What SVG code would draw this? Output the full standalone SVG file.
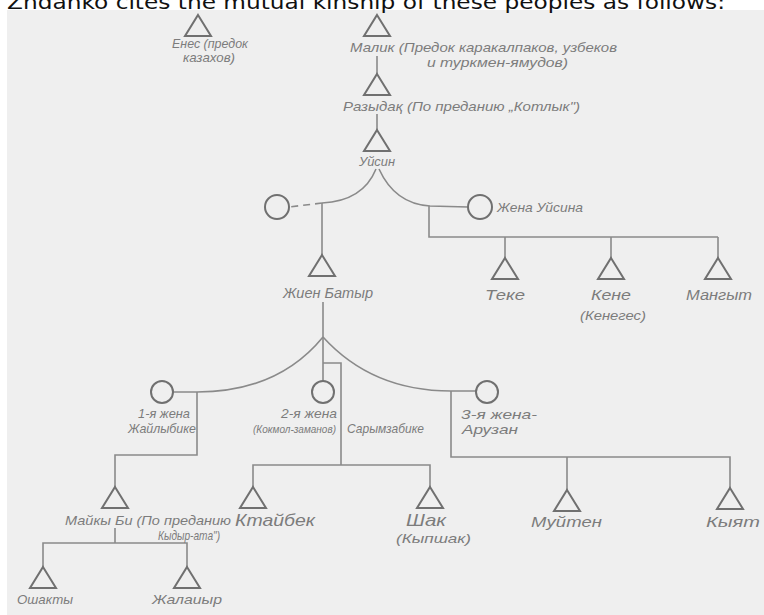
<svg xmlns="http://www.w3.org/2000/svg" xmlns:xlink="http://www.w3.org/1999/xlink" width="764" height="615" viewBox="0 0 764 615">
<style>
.bg{fill:#efefef}
.hdr{font-family:"DejaVu Sans",Verdana,sans-serif;font-size:20px;fill:#111}
.t{font-family:"Liberation Sans",Arial,sans-serif;font-style:italic;font-size:13px;fill:#7c7c7c}
.tb{font-family:"Liberation Sans",Arial,sans-serif;font-style:italic;font-size:15px;fill:#7c7c7c}
.tri{fill:none;stroke:#707070;stroke-width:2;stroke-linejoin:miter}
.cir{fill:none;stroke:#707070;stroke-width:2}
.ln{fill:none;stroke:#8a8a8a;stroke-width:1.6}
.dash{fill:none;stroke:#8a8a8a;stroke-width:1.6;stroke-dasharray:7 5}
</style>
<defs>
<path id="tri" d="M0,0 L13,21 L-13,21 Z"/>
</defs>
<rect class="bg" x="7" y="10" width="757" height="605"/>
<text class="hdr" x="7" y="9" textLength="718" lengthAdjust="spacingAndGlyphs">Zhdanko cites the mutual kinship of these peoples as follows:</text>

<g id="connectors">
<path class="ln" d="M377,56 V74"/>
<path class="ln" d="M377,114 V130"/>
<path class="ln" d="M376,169 Q363,201 322,203"/>
<path class="dash" d="M322,203 L289,207"/>
<path class="ln" d="M379,169 Q395,204 430,206 L468,207"/>
<path class="ln" d="M322,203 V255"/>
<path class="ln" d="M429,206 V237 H718"/>
<path class="ln" d="M505,237 V258"/>
<path class="ln" d="M611,237 V258"/>
<path class="ln" d="M718,237 V258"/>
<path class="ln" d="M323,302 V381"/>
<path class="ln" d="M323,337 Q278,392 197,392 H173"/>
<path class="ln" d="M323,337 Q372,391 451,391 H476"/>
<path class="ln" d="M197,392 V455 H115 V487"/>
<path class="ln" d="M323,363 H341 V465"/>
<path class="ln" d="M253,487 V465 H430 V487"/>
<path class="ln" d="M451,391 V457 H730 V488"/>
<path class="ln" d="M567,457 V490"/>
<path class="ln" d="M115,528 V543"/>
<path class="ln" d="M43,567 V543 H187 V567"/>
</g>

<g id="enes">
<use href="#tri" class="tri" x="198" y="15"/>
<text class="t" x="172" y="48" textLength="76" lengthAdjust="spacingAndGlyphs">Енес (предок</text>
<text class="t" x="183" y="62" textLength="52" lengthAdjust="spacingAndGlyphs">казахов)</text>
</g>
<g id="malik">
<use href="#tri" class="tri" x="377" y="15"/>
<text class="t" x="350" y="52" textLength="267" lengthAdjust="spacingAndGlyphs">Малик (Предок каракалпаков, узбеков</text>
<text class="t" x="427" y="67" textLength="141" lengthAdjust="spacingAndGlyphs">и туркмен-ямудов)</text>
</g>
<g id="razydak">
<use href="#tri" class="tri" x="377" y="74"/>
<text class="t" x="343" y="111" textLength="237" lengthAdjust="spacingAndGlyphs">Разыдақ (По преданию „Котлык")</text>
</g>
<g id="uysin">
<use href="#tri" class="tri" x="377" y="130"/>
<text class="t" x="359" y="166" textLength="36" lengthAdjust="spacingAndGlyphs">Уйсин</text>
</g>
<g id="wife-left">
<circle class="cir" cx="277" cy="207" r="12"/>
</g>
<g id="wife-uysin">
<circle class="cir" cx="480" cy="207" r="12"/>
<text class="t" x="497" y="212" textLength="86" lengthAdjust="spacingAndGlyphs">Жена Уйсина</text>
</g>
<g id="zhien">
<use href="#tri" class="tri" x="322" y="255"/>
<text class="tb" x="283" y="298" textLength="90" lengthAdjust="spacingAndGlyphs">Жиен Батыр</text>
</g>
<g id="teke">
<use href="#tri" class="tri" x="505" y="258"/>
<text class="tb" x="485" y="300" textLength="40" lengthAdjust="spacingAndGlyphs">Теке</text>
</g>
<g id="kene">
<use href="#tri" class="tri" x="611" y="258"/>
<text class="tb" x="591" y="300" textLength="40" lengthAdjust="spacingAndGlyphs">Кене</text>
<text class="t" x="580" y="320" textLength="66" lengthAdjust="spacingAndGlyphs">(Кенегес)</text>
</g>
<g id="mangyt">
<use href="#tri" class="tri" x="718" y="258"/>
<text class="tb" x="686" y="300" textLength="66" lengthAdjust="spacingAndGlyphs">Мангыт</text>
</g>
<g id="wife1">
<circle class="cir" cx="162" cy="392" r="11"/>
<text class="t" x="138" y="418" textLength="52" lengthAdjust="spacingAndGlyphs">1-я жена</text>
<text class="t" x="128" y="433" textLength="68" lengthAdjust="spacingAndGlyphs">Жайлыбике</text>
</g>
<g id="wife2">
<circle class="cir" cx="323" cy="392" r="11"/>
<text class="t" x="281" y="418" textLength="56" lengthAdjust="spacingAndGlyphs">2-я жена</text>
<text class="t" x="253" y="433" textLength="83" lengthAdjust="spacingAndGlyphs" style="font-size:10.5px">(Кокмол-заманов)</text>
<text class="t" x="347" y="433" textLength="77" lengthAdjust="spacingAndGlyphs">Сарымзабике</text>
</g>
<g id="wife3">
<circle class="cir" cx="487" cy="392" r="11"/>
<text class="t" x="461" y="419" textLength="76" lengthAdjust="spacingAndGlyphs">3-я жена-</text>
<text class="t" x="462" y="434" textLength="56" lengthAdjust="spacingAndGlyphs">Арузан</text>
</g>
<g id="maiky">
<use href="#tri" class="tri" x="115" y="487"/>
<text class="t" x="65" y="525" textLength="166" lengthAdjust="spacingAndGlyphs">Майкы Би (По преданию</text>
<text class="t" x="158" y="540" textLength="62" lengthAdjust="spacingAndGlyphs">Кыдыр-ата")</text>
</g>
<g id="ktaibek">
<use href="#tri" class="tri" x="253" y="487"/>
<text class="tb" x="235" y="526" textLength="80" lengthAdjust="spacingAndGlyphs" style="font-size:17px">Ктайбек</text>
</g>
<g id="shak">
<use href="#tri" class="tri" x="430" y="487"/>
<text class="tb" x="406" y="526" textLength="40" lengthAdjust="spacingAndGlyphs" style="font-size:17px">Шак</text>
<text class="t" x="396" y="543" textLength="75" lengthAdjust="spacingAndGlyphs">(Кыпшак)</text>
</g>
<g id="muiten">
<use href="#tri" class="tri" x="567" y="490"/>
<text class="tb" x="531" y="527" textLength="71" lengthAdjust="spacingAndGlyphs">Муйтен</text>
</g>
<g id="kyyat">
<use href="#tri" class="tri" x="730" y="488"/>
<text class="tb" x="706" y="527" textLength="54" lengthAdjust="spacingAndGlyphs">Кыят</text>
</g>
<g id="oshakty">
<use href="#tri" class="tri" x="43" y="567"/>
<text class="t" x="17" y="604" textLength="56" lengthAdjust="spacingAndGlyphs">Ошакты</text>
</g>
<g id="zhalair">
<use href="#tri" class="tri" x="187" y="567"/>
<text class="t" x="152" y="604" textLength="70" lengthAdjust="spacingAndGlyphs">Жалаиыр</text>
</g>
</svg>
